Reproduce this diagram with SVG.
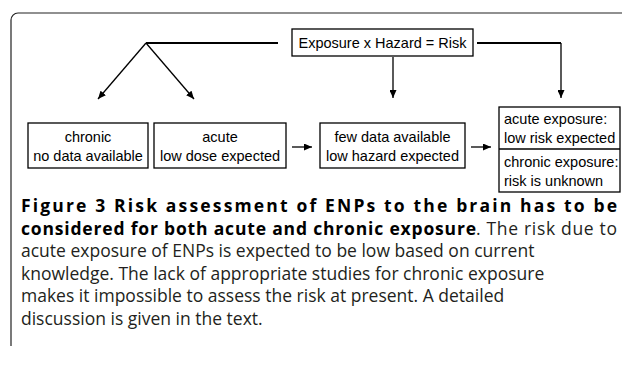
<svg xmlns="http://www.w3.org/2000/svg" width="622" height="365" viewBox="0 0 622 365">
<defs>
<marker id="ah" markerWidth="8" markerHeight="7" refX="8" refY="3.5" orient="auto" markerUnits="userSpaceOnUse">
<path d="M0,0 L8,3.5 L0,7 Z" fill="#000"/>
</marker>
<style>
.box{fill:#fff;stroke:#000;stroke-width:1.3}
.t{font-family:"Liberation Sans",Arial,sans-serif;font-size:14.5px;fill:#000}
.c{text-anchor:middle}
.ln{fill:none;stroke:#000;stroke-width:1.3}
.thick{fill:none;stroke:#000;stroke-width:2}
.cap{font-family:"Open Sans","Noto Sans",sans-serif;font-size:17.5px;fill:#231f20}
.b{font-weight:bold;fill:#000}
</style>
</defs>
<rect width="622" height="365" fill="#fff"/>
<path d="M622,13 H18 A7,7 0 0 0 11,20 V346" fill="none" stroke="#222" stroke-width="1.2"/>

<g id="connectors">
<path class="thick" d="M146,43 H278"/>
<path class="thick" d="M477,43 H561"/>
<path class="ln" d="M561,43 V98" marker-end="url(#ah)"/>
<path class="ln" d="M393,57 V98" marker-end="url(#ah)"/>
<path class="ln" d="M146,43 L98,99" marker-end="url(#ah)"/>
<path class="ln" d="M146,43 L194,99" marker-end="url(#ah)"/>
<path class="ln" d="M292,147 H312" marker-end="url(#ah)"/>
<path class="ln" d="M471,147 H491" marker-end="url(#ah)"/>
</g>

<g id="formula">
<rect class="box" x="292" y="29" width="181" height="27"/>
<text class="t c" x="382.5" y="48">Exposure x Hazard = Risk</text>
</g>
<g id="chronic">
<rect class="box" x="28" y="123" width="120" height="45"/>
<text class="t c" x="88" y="142">chronic</text>
<text class="t c" x="88" y="161">no data available</text>
</g>
<g id="acute">
<rect class="box" x="154" y="123" width="132" height="45"/>
<text class="t c" x="220" y="142">acute</text>
<text class="t c" x="220" y="161">low dose expected</text>
</g>
<g id="hazard">
<rect class="box" x="320" y="123" width="145" height="45"/>
<text class="t c" x="392.5" y="142">few data available</text>
<text class="t c" x="392.5" y="161">low hazard expected</text>
</g>
<g id="risk">
<rect class="box" x="499" y="107" width="121" height="85"/>
<line class="ln" x1="499" y1="149" x2="620" y2="149"/>
<text class="t" x="504" y="124">acute exposure:</text>
<text class="t" x="504" y="143">low risk expected</text>
<text class="t" x="504" y="167">chronic exposure:</text>
<text class="t" x="504" y="186">risk is unknown</text>
</g>

<g id="caption">
<text class="cap b" x="21" y="212" textLength="596" lengthAdjust="spacing">Figure 3 Risk assessment of ENPs to the brain has to be</text>
<text class="cap b" x="21" y="234.6" textLength="455" lengthAdjust="spacing">considered for both acute and chronic exposure</text>
<text class="cap" x="476" y="234.6" textLength="141" lengthAdjust="spacing">. The risk due to</text>
<text class="cap" x="21" y="257.2">acute exposure of ENPs is expected to be low based on current</text>
<text class="cap" x="21" y="279.8">knowledge. The lack of appropriate studies for chronic exposure</text>
<text class="cap" x="21" y="302.4">makes it impossible to assess the risk at present. A detailed</text>
<text class="cap" x="21" y="325">discussion is given in the text.</text>
</g>
</svg>
